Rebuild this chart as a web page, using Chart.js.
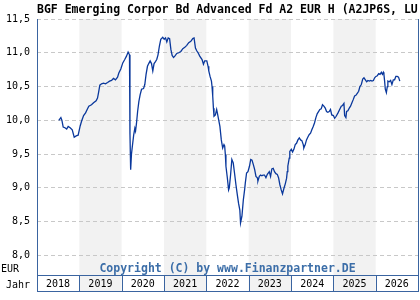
<!DOCTYPE html>
<html>
<head>
<meta charset="utf-8">
<script src="https://cdn.jsdelivr.net/npm/chart.js@4"></script>
<style>
  html, body { margin: 0; padding: 0; background: #fff; }
  canvas { display: block; }
</style>
</head>
<body>
<canvas id="chart" width="420" height="300"></canvas>
<script>
// Chart values
const title = 'BGF Emerging Corpor Bd Advanced Fd A2 EUR H (A2JP6S, LU'
const years = [2018, 2019, 2020, 2021, 2022, 2023, 2024, 2025, 2026]
const yTicks = [8, 8.5, 9, 9.5, 10, 10.5, 11, 11.5]

const dates = [
  '2018-07-08', '2018-07-26', '2018-08-04', '2018-08-15', '2018-08-30', '2018-09-14', '2018-09-27', '2018-10-14',
  '2018-11-01', '2018-11-18', '2018-12-05', '2018-12-22', '2019-01-09', '2019-01-21', '2019-02-07', '2019-02-24',
  '2019-03-13', '2019-03-24', '2019-04-16', '2019-05-04', '2019-05-26', '2019-06-07', '2019-06-16', '2019-06-27',
  '2019-07-12', '2019-07-29', '2019-08-15', '2019-09-02', '2019-09-19', '2019-10-06', '2019-10-23', '2019-11-09',
  '2019-11-27', '2019-12-08', '2019-12-25', '2020-01-11', '2020-01-28', '2020-02-12', '2020-02-26', '2020-03-09',
  '2020-03-13', '2020-03-19', '2020-03-26', '2020-04-03', '2020-04-14', '2020-04-24', '2020-04-30', '2020-05-08',
  '2020-05-18', '2020-05-29', '2020-06-09', '2020-06-21', '2020-07-08', '2020-07-19', '2020-07-30', '2020-08-11',
  '2020-08-22', '2020-09-03', '2020-09-15', '2020-09-26', '2020-10-07', '2020-10-19', '2020-10-30', '2020-11-10',
  '2020-11-22', '2020-12-04', '2020-12-21', '2021-01-02', '2021-01-14', '2021-01-25', '2021-02-06', '2021-02-18',
  '2021-03-01', '2021-03-12', '2021-03-24', '2021-04-04', '2021-04-21', '2021-05-08', '2021-05-26', '2021-06-12',
  '2021-06-29', '2021-07-16', '2021-08-02', '2021-08-20', '2021-09-06', '2021-09-17', '2021-09-29', '2021-10-10',
  '2021-10-22', '2021-11-05', '2021-11-25', '2021-12-07', '2021-12-18', '2022-01-05', '2022-01-16', '2022-01-22',
  '2022-02-02', '2022-02-14', '2022-02-19', '2022-02-25', '2022-03-03', '2022-03-08', '2022-03-20', '2022-03-31',
  '2022-04-06', '2022-04-17', '2022-04-28', '2022-05-10', '2022-05-22', '2022-06-02', '2022-06-08', '2022-06-14',
  '2022-06-19', '2022-07-01', '2022-07-12', '2022-07-18', '2022-07-29', '2022-08-09', '2022-08-21', '2022-09-01',
  '2022-09-13', '2022-09-25', '2022-10-06', '2022-10-17', '2022-10-23', '2022-11-04', '2022-11-16', '2022-11-27',
  '2022-12-03', '2022-12-14', '2022-12-26', '2023-01-08', '2023-01-19', '2023-01-30', '2023-02-11', '2023-02-22',
  '2023-03-05', '2023-03-17', '2023-03-22', '2023-04-03', '2023-04-14', '2023-04-25', '2023-05-07', '2023-05-18',
  '2023-05-30', '2023-06-11', '2023-06-28', '2023-07-09', '2023-07-20', '2023-08-01', '2023-08-12', '2023-08-24',
  '2023-09-05', '2023-09-16', '2023-09-27', '2023-10-09', '2023-10-20', '2023-11-01', '2023-11-13', '2023-11-24',
  '2023-11-30', '2023-12-05', '2023-12-17', '2023-12-22', '2024-01-04', '2024-01-15', '2024-01-26', '2024-02-07',
  '2024-02-18', '2024-03-01', '2024-03-13', '2024-03-24', '2024-04-04', '2024-04-16', '2024-04-21', '2024-05-03',
  '2024-05-14', '2024-05-25', '2024-06-07', '2024-06-18', '2024-06-29', '2024-07-11', '2024-07-22', '2024-08-03',
  '2024-08-15', '2024-08-26', '2024-09-06', '2024-09-18', '2024-09-29', '2024-10-11', '2024-10-23', '2024-11-03',
  '2024-11-14', '2024-11-26', '2024-12-07', '2024-12-18', '2025-01-01', '2025-01-12', '2025-01-25', '2025-02-10',
  '2025-02-24', '2025-03-10', '2025-03-21', '2025-04-02', '2025-04-08', '2025-04-19', '2025-04-25', '2025-05-06',
  '2025-05-18', '2025-05-29', '2025-06-10', '2025-06-22', '2025-07-03', '2025-07-14', '2025-07-26', '2025-08-07',
  '2025-08-18', '2025-08-30', '2025-09-11', '2025-09-22', '2025-10-04', '2025-10-15', '2025-10-26', '2025-11-07',
  '2025-11-19', '2025-11-30', '2025-12-12', '2025-12-23', '2026-01-03', '2026-01-15', '2026-01-27', '2026-02-07',
  '2026-02-19', '2026-02-28', '2026-03-08', '2026-03-13', '2026-03-19', '2026-03-25', '2026-04-03', '2026-04-11',
  '2026-04-16', '2026-04-28', '2026-05-10', '2026-05-21', '2026-06-02', '2026-06-13', '2026-06-24', '2026-07-06',
  '2026-07-17', '2026-07-28'
]

const prices = [
  10.00, 10.04, 10.00, 9.90, 9.89, 9.87, 9.91, 9.89,
  9.86, 9.75, 9.77, 9.78, 9.92, 9.99, 10.07, 10.11,
  10.17, 10.21, 10.23, 10.26, 10.29, 10.33, 10.41, 10.52,
  10.54, 10.55, 10.54, 10.56, 10.58, 10.59, 10.62, 10.60,
  10.64, 10.70, 10.76, 10.85, 10.90, 10.95, 11.01, 10.97,
  9.80, 9.27, 9.50, 9.62, 9.78, 9.88, 9.84, 9.95,
  10.13, 10.28, 10.38, 10.46, 10.47, 10.53, 10.68, 10.80,
  10.84, 10.88, 10.84, 10.73, 10.84, 10.87, 10.90, 10.97,
  11.10, 11.20, 11.23, 11.20, 11.22, 11.16, 11.22, 11.21,
  11.05, 10.96, 10.93, 10.95, 10.99, 11.00, 11.02, 11.06,
  11.08, 11.11, 11.15, 11.17, 11.21, 11.22, 11.07, 11.03,
  11.00, 10.95, 10.90, 10.83, 10.88, 10.88, 10.80, 10.73,
  10.65, 10.58, 10.50, 10.36, 10.18, 10.06, 10.08, 10.16,
  10.11, 10.01, 9.91, 9.71, 9.59, 9.64, 9.62, 9.49,
  9.32, 9.15, 8.97, 9.00, 9.19, 9.42, 9.37, 9.22,
  9.05, 8.90, 8.77, 8.67, 8.48, 8.58, 8.82, 8.97,
  9.07, 9.22, 9.24, 9.32, 9.42, 9.41, 9.34, 9.27,
  9.17, 9.15, 9.10, 9.17, 9.19, 9.18, 9.19, 9.19,
  9.15, 9.20, 9.24, 9.17, 9.28, 9.29, 9.24, 9.21,
  9.20, 9.15, 9.05, 8.97, 8.91, 8.99, 9.06, 9.14,
  9.24, 9.32, 9.44, 9.54, 9.57, 9.53, 9.57, 9.64,
  9.66, 9.71, 9.74, 9.71, 9.70, 9.64, 9.59, 9.64,
  9.71, 9.75, 9.79, 9.81, 9.86, 9.91, 9.96, 10.04,
  10.10, 10.13, 10.16, 10.17, 10.23, 10.21, 10.18, 10.13,
  10.12, 10.13, 10.16, 10.08, 10.07, 10.03, 10.06, 10.11,
  10.16, 10.21, 10.22, 10.25, 10.07, 10.04, 10.13, 10.14,
  10.18, 10.21, 10.26, 10.31, 10.36, 10.37, 10.40, 10.43,
  10.50, 10.53, 10.61, 10.63, 10.60, 10.57, 10.59, 10.58,
  10.59, 10.58, 10.59, 10.63, 10.65, 10.66, 10.69, 10.68,
  10.71, 10.68, 10.71, 10.68, 10.58, 10.46, 10.41, 10.50,
  10.58, 10.57, 10.59, 10.53, 10.60, 10.60, 10.65, 10.65,
  10.64, 10.58
]

// Colours and fonts
const lineColor = '#0a389c'
const frameColor = '#3a64a0'
const bandColor = '#f2f2f2'
const gridColor = '#c8c8c8'
const copyColor = '#3c6ea8'
const mono = "'DejaVu Sans Mono', monospace"

const points = dates.map((d, i) => ({ x: Date.parse(d), y: prices[i] }))
const yearStart = y => Date.UTC(y, 0, 1)

// Year bands, year box and text around the plot
const framePlugin = {
  id: 'frame',
  beforeDraw(chart) {
    const { ctx, chartArea: a, scales: { x } } = chart
    ctx.save()
    ctx.fillStyle = bandColor
    years.forEach((yr, i) => {
      if (i % 2 === 1) {
        const x0 = x.getPixelForValue(yearStart(yr))
        const x1 = x.getPixelForValue(yearStart(yr + 1))
        ctx.fillRect(x0, a.top, x1 - x0, x.bottom - a.top)
      }
    })
    ctx.restore()
  },
  afterDraw(chart) {
    const { ctx, chartArea: a, scales: { x } } = chart
    const bottom = x.bottom - 0.5
    ctx.save()
    ctx.strokeStyle = frameColor
    ctx.lineWidth = 1
    ctx.beginPath()
    ctx.moveTo(a.left + 0.5, a.top)
    ctx.lineTo(a.left + 0.5, bottom)
    ctx.moveTo(a.right + 0.5, a.top)
    ctx.lineTo(a.right + 0.5, bottom)
    ctx.moveTo(a.left, a.bottom + 0.5)
    ctx.lineTo(a.right + 1, a.bottom + 0.5)
    ctx.moveTo(a.left, bottom)
    ctx.lineTo(a.right + 1, bottom)
    years.forEach(yr => {
      const px = Math.round(x.getPixelForValue(yearStart(yr))) + 0.5
      ctx.moveTo(px, a.bottom)
      ctx.lineTo(px, bottom)
    })
    ctx.stroke()

    ctx.fillStyle = '#000'
    ctx.textBaseline = 'alphabetic'
    ctx.font = 'bold 11.5px ' + mono
    ctx.textAlign = 'left'
    ctx.fillText(title, a.left, 13)

    ctx.font = '10px ' + mono
    ctx.fillText('EUR', 1, 272)
    ctx.textAlign = 'right'
    ctx.fillText('Jahr', 30, 288)

    ctx.fillStyle = copyColor
    ctx.font = 'bold 11.5px ' + mono
    ctx.textAlign = 'center'
    ctx.fillText('Copyright (C) by www.Finanzpartner.DE', (a.left + a.right) / 2, 272)
    ctx.restore()
  }
}

const ctx = document.getElementById('chart')

const myChart = new Chart(ctx, {
  type: 'line',
  data: {
    datasets: [{
      data: points,
      borderColor: lineColor,
      borderWidth: 1.3,
      pointRadius: 0,
      tension: 0,
      fill: false
    }]
  },
  options: {
    responsive: false,
    animation: false,
    layout: { padding: { top: 19, right: 2, bottom: 8, left: 0 } },
    plugins: {
      legend: { display: false },
      tooltip: { enabled: false }
    },
    scales: {
      x: {
        type: 'linear',
        min: yearStart(years[0]),
        max: yearStart(years[years.length - 1] + 1),
        afterBuildTicks: scale => {
          scale.ticks = years.map(y => ({ value: Date.UTC(y, 6, 2) }))
        },
        afterFit: scale => { scale.height = 17 },
        grid: { display: false, drawTicks: false },
        border: { display: false },
        ticks: {
          autoSkip: false,
          maxRotation: 0,
          padding: 3,
          color: '#000',
          font: { family: mono, size: 10 },
          callback: v => String(new Date(v).getUTCFullYear())
        }
      },
      y: {
        min: 7.71,
        max: 11.5,
        afterBuildTicks: scale => {
          scale.ticks = yTicks.map(v => ({ value: v }))
        },
        afterFit: scale => { scale.width = 37 },
        grid: { color: gridColor, lineWidth: 1, drawTicks: false },
        border: { display: false, dash: [4, 3] },
        ticks: {
          padding: 7,
          color: '#000',
          font: { family: mono, size: 10 },
          callback: v => v.toFixed(1).replace('.', ',')
        }
      }
    }
  },
  plugins: [framePlugin]
})
</script>
</body>
</html>
